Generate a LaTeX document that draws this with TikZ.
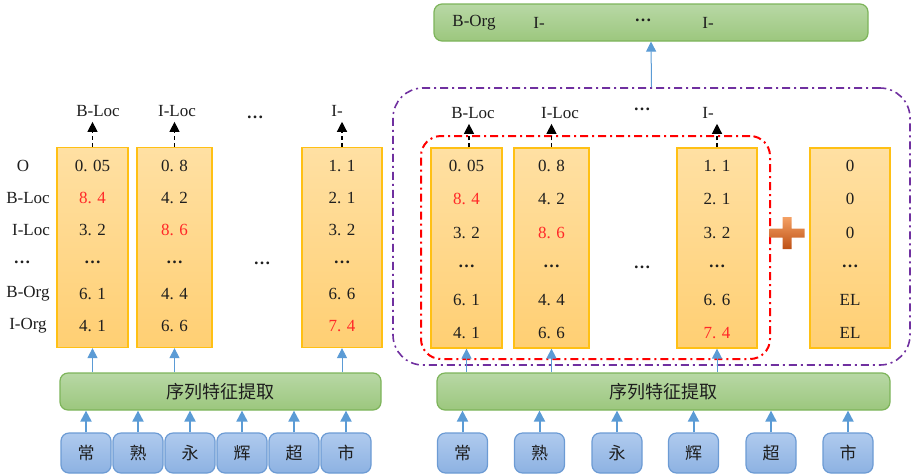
\documentclass[tikz,border=0pt]{standalone}
\usepackage{fontspec}
\setmainfont{Liberation Serif}
\newfontfamily\cjk{Noto Sans CJK SC}
\usetikzlibrary{arrows.meta}

\definecolor{scoretop}{RGB}{255,224,163}
\definecolor{scorebot}{RGB}{255,207,115}
\definecolor{scoreline}{RGB}{255,192,20}
\definecolor{enctop}{RGB}{184,216,165}
\definecolor{encbot}{RGB}{156,199,126}
\definecolor{encline}{RGB}{125,180,90}
\definecolor{chartop}{RGB}{175,202,238}
\definecolor{charbot}{RGB}{141,178,226}
\definecolor{charline}{RGB}{108,155,212}
\definecolor{feedblue}{RGB}{91,155,213}
\definecolor{hitred}{RGB}{255,40,40}
\definecolor{crfpurple}{RGB}{112,48,160}
\definecolor{plustop}{RGB}{244,160,100}
\definecolor{plusbot}{RGB}{190,80,20}
\definecolor{ink}{RGB}{30,30,30}
\newcommand{\maxv}[1]{\textcolor{hitred}{#1}}
\newcommand{\skipv}{\textbf{…}}

\tikzset{
  lab/.style={font=\fontsize{17}{20}\selectfont, text=ink, inner sep=0pt},
  score/.style={draw=scoreline, line width=1.2pt, top color=scoretop, bottom color=scorebot, minimum height=200pt, inner sep=0pt},
  enc/.style={draw=encline, line width=1.2pt, rounded corners=8pt, top color=enctop, bottom color=encbot, minimum height=37pt, text=ink, font=\cjk\fontsize{18}{20}\selectfont},
  char/.style={draw=charline, line width=1.2pt, rounded corners=8pt, top color=chartop, bottom color=charbot, minimum width=50pt, minimum height=40pt, text=ink, font=\cjk\fontsize{17}{20}\selectfont},
  feed/.style={draw=feedblue, line width=2pt, -{Triangle[width=11pt,length=11pt]}},
  thinfeed/.style={draw=feedblue, line width=1pt, -{Triangle[width=10pt,length=10pt]}},
  tagarrow/.style={line width=1.2pt, dash pattern=on 4pt off 3pt, shorten >=5pt, -{Triangle[width=10pt,length=10pt]}},
  emisbox/.style={draw=red, line width=2pt, dash pattern=on 8pt off 4pt on 2pt off 4pt, rounded corners=20pt, minimum width=349pt, minimum height=223pt},
  crfbox/.style={draw=crfpurple, line width=1.6pt, dash pattern=on 8pt off 4pt on 2pt off 4pt, rounded corners=30pt, minimum width=517pt, minimum height=277pt},
}

\begin{document}
\begin{tikzpicture}[x=1pt,y=-1pt]
\useasboundingbox (0,0) rectangle (912,475);

% left
\node[score,minimum width=71pt] (lv1) at (92.5,247.5) {};
\node[score,minimum width=75pt] (lv2) at (174.5,247.5) {};
\node[score,minimum width=80pt] (lv3) at (342,247.5) {};
\foreach \v [count=\i] in {0. 05,\maxv{8. 4},3. 2,\skipv,6. 1,4. 1}
  \node[lab] (la\i) at (92.5,{134+32*\i}) {\v};
\foreach \v [count=\i] in {0. 8,4. 2,\maxv{8. 6},\skipv,4. 4,6. 6}
  \node[lab] (lb\i) at (174.5,{134+32*\i}) {\v};
\foreach \v [count=\i] in {1. 1,2. 1,3. 2,\skipv,6. 6,\maxv{7. 4}}
  \node[lab] (lc\i) at (342,{134+32*\i}) {\v};
\foreach \t/\x [count=\i] in {O/23,B-Loc/28,I-Loc/31,\skipv/22,B-Org/28,I-Org/28}
  \node[lab] (row\i) at (\x,{134+32*\i}) {\t};
\node[lab] (lmid) at (262,263) {\skipv};

\node[lab] (lt1) at (98,111) {B-Loc};
\node[lab] (lt2) at (177,111) {I-Loc};
\node[lab] (ltd) at (255,117) {\skipv};
\node[lab] (lt3) at (337,111) {I-};
\foreach \n in {1,2,3}
  \draw[tagarrow] (lv\n.north) -- (lv\n.north |- lt\n.south);

\node[enc,minimum width=321pt] (lenc) at (220.5,391.5) {序列特征提取};
\foreach \n in {1,2,3}
  \draw[thinfeed] (lv\n.south |- lenc.north) -- (lv\n.south);
\foreach \c/\x [count=\i] in {常/86,熟/138,永/190,辉/242,超/294,市/346}{
  \node[char] (lw\i) at (\x,453) {\c};
  \draw[feed] (lw\i.north) -- (lw\i.north |- lenc.south);
}

% right
\node[crfbox] (crf) at (651.5,226.5) {};
\node[score,minimum width=71pt] (rv1) at (466.5,248) {};
\node[score,minimum width=75pt] (rv2) at (551.5,248) {};
\node[score,minimum width=80pt] (rv3) at (717,248) {};
\node[score,minimum width=80pt] (rv4) at (850,248) {};
\node[emisbox] (emis) at (595.5,247.5) {};
\foreach \v [count=\i] in {0. 05,\maxv{8. 4},3. 2,\skipv,6. 1,4. 1}
  \node[lab] (ra\i) at (466.5,{132.6+33.4*\i}) {\v};
\foreach \v [count=\i] in {0. 8,4. 2,\maxv{8. 6},\skipv,4. 4,6. 6}
  \node[lab] (rb\i) at (551.5,{132.6+33.4*\i}) {\v};
\foreach \v [count=\i] in {1. 1,2. 1,3. 2,\skipv,6. 6,\maxv{7. 4}}
  \node[lab] (rc\i) at (717,{132.6+33.4*\i}) {\v};
\foreach \v [count=\i] in {0,0,0,\skipv,EL,EL}
  \node[lab] (rd\i) at (850,{132.6+33.4*\i}) {\v};
\node[lab] (rmid) at (642,267) {\skipv};

\node[lab] (rt1) at (473,113) {B-Loc};
\node[lab] (rt2) at (560,113) {I-Loc};
\node[lab] (rtd) at (642,109) {\skipv};
\node[lab] (rt3) at (708,113) {I-};
\draw[tagarrow] (rv1.north) ++(2.5,0) -- (rt1.south -| 469,0);
\draw[tagarrow] (rv2.north) -- (rv2.north |- rt2.south);
\draw[tagarrow] (rv3.north) -- (rv3.north |- rt3.south);

\shade[top color=plustop, bottom color=plusbot]
  (782.5,217) -- (791.5,217) -- (791.5,228.5) -- (804.5,228.5) -- (804.5,237.5)
  -- (791.5,237.5) -- (791.5,249) -- (782.5,249) -- (782.5,237.5) -- (769.5,237.5)
  -- (769.5,228.5) -- (782.5,228.5) -- cycle;

\node[enc,minimum width=453pt] (renc) at (663.5,391.5) {序列特征提取};
\foreach \n in {1,2,3}
  \draw[thinfeed] (rv\n.south |- renc.north) -- (rv\n.south);
\foreach \c/\x [count=\i] in {常/462.5,熟/539.5,永/617,辉/693.5,超/771,市/848}{
  \node[char] (rw\i) at (\x,453) {\c};
  \draw[feed] (rw\i.north) -- (rw\i.north |- renc.south);
}

\node[enc,minimum width=434pt] (tags) at (651,22.5) {};
\node[lab] (tg1) at (474,23) {B-Org};
\node[lab] (tg2) at (539,23) {I-};
\node[lab] (tgd) at (643,20) {\skipv};
\node[lab] (tg3) at (708,23) {I-};
\draw[thinfeed] (crf.north) -- (tags.south);
\end{tikzpicture}
\end{document}
